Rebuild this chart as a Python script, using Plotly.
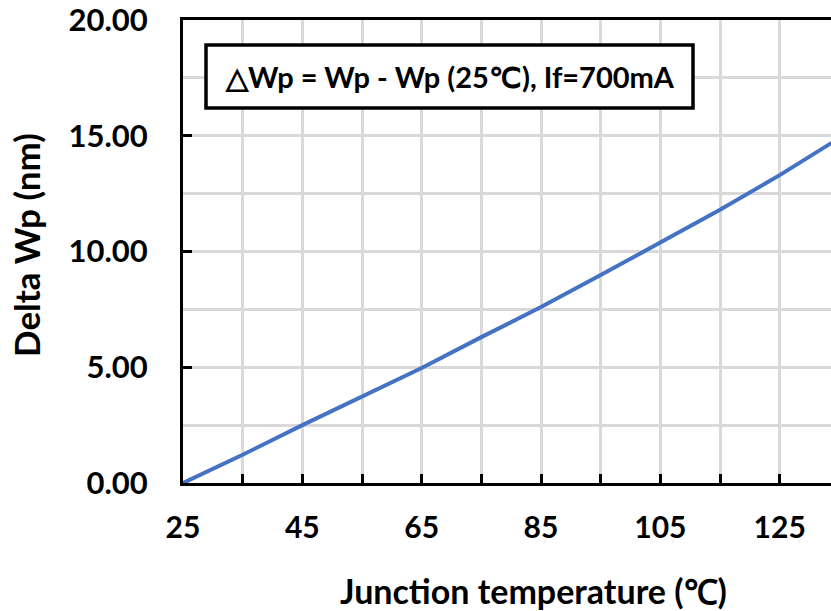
import plotly.graph_objects as go

temps = [25, 35, 45, 55, 65, 75, 85, 95, 105, 115, 125, 135]
delta_wp = [0.0, 1.22, 2.5, 3.72, 4.97, 6.3, 7.6, 8.98, 10.37, 11.8, 13.3, 14.9]

x_tickvals = [25, 35, 45, 55, 65, 75, 85, 95, 105, 115, 125, 135]
x_ticktext = ["25", "", "45", "", "65", "", "85", "", "105", "", "125", ""]
y_tickvals = [0, 5, 10, 15, 20]
y_ticktext = ["0.00", "5.00", "10.00", "15.00", "20.00"]

FONT = "Lato"
GRID = "#d9d9d9"

L, T = 183, 20          # plot-area left / top in page pixels
R, B = 831, 483         # plot-area right / bottom in page pixels
PW, PH = R - L, B - T


def px(xp):
    return (xp - L) / PW


def py(yp):
    return (B - yp) / PH


fig = go.Figure()
fig.add_trace(go.Scatter(x=temps, y=delta_wp, mode="lines",
                         line=dict(color="#4472C4", width=4), showlegend=False))

fig.update_layout(
    width=831, height=611,
    margin=dict(l=L, r=831 - R, t=T, b=611 - B),
    plot_bgcolor="white", paper_bgcolor="white",
    font=dict(family=FONT, color="black"),
    xaxis=dict(range=[25, 133.6], tickvals=x_tickvals, ticktext=x_ticktext,
               showgrid=True, gridcolor=GRID, gridwidth=3,
               showline=True, linecolor="black", linewidth=3, mirror=True,
               ticks="inside", ticklen=9, tickwidth=3, tickcolor="black",
               tickfont=dict(family=FONT, size=30, color="black", weight="bold"),
               ticklabelstandoff=16, ticklabeloverflow="allow", zeroline=False),
    yaxis=dict(range=[0, 20], tickvals=y_tickvals, ticktext=y_ticktext,
               showgrid=True, gridcolor=GRID, gridwidth=3,
               minor=dict(dtick=2.5, showgrid=True, gridcolor=GRID, gridwidth=3, ticks=""),
               showline=True, linecolor="black", linewidth=3,
               ticks="inside", ticklen=9, tickwidth=3, tickcolor="black",
               tickfont=dict(family=FONT, size=31, color="black", weight="bold"),
               ticklabelstandoff=26, ticklabeloverflow="allow", zeroline=False),
)

fig.add_shape(type="rect", xref="paper", yref="paper",
              x0=px(206), x1=px(693), y0=py(108), y1=py(45),
              line=dict(color="black", width=3.5), fillcolor="white", layer="above")

fig.add_annotation(xref="paper", yref="paper",
                   x=px(450), y=py(77),
                   xanchor="center", yanchor="middle", showarrow=False,
                   text="△Wp = Wp - Wp (25℃), If=700mA",
                   font=dict(family=FONT, size=29, color="black", weight="bold"))
fig.add_annotation(xref="paper", yref="paper",
                   x=px(533), y=py(590),
                   xanchor="center", yanchor="middle", showarrow=False,
                   text="Junction temperature (℃)",
                   font=dict(family=FONT, size=34, color="black", weight="bold"))
fig.add_annotation(xref="paper", yref="paper",
                   x=px(26), y=py(245),
                   xanchor="center", yanchor="middle", showarrow=False, textangle=-90,
                   text="Delta Wp (nm)",
                   font=dict(family=FONT, size=35, color="black", weight="bold"))

fig.write_html("out.html",
               config={"displayModeBar": False},
               post_script="document.body.style.margin='0';document.body.style.overflow='hidden';")
